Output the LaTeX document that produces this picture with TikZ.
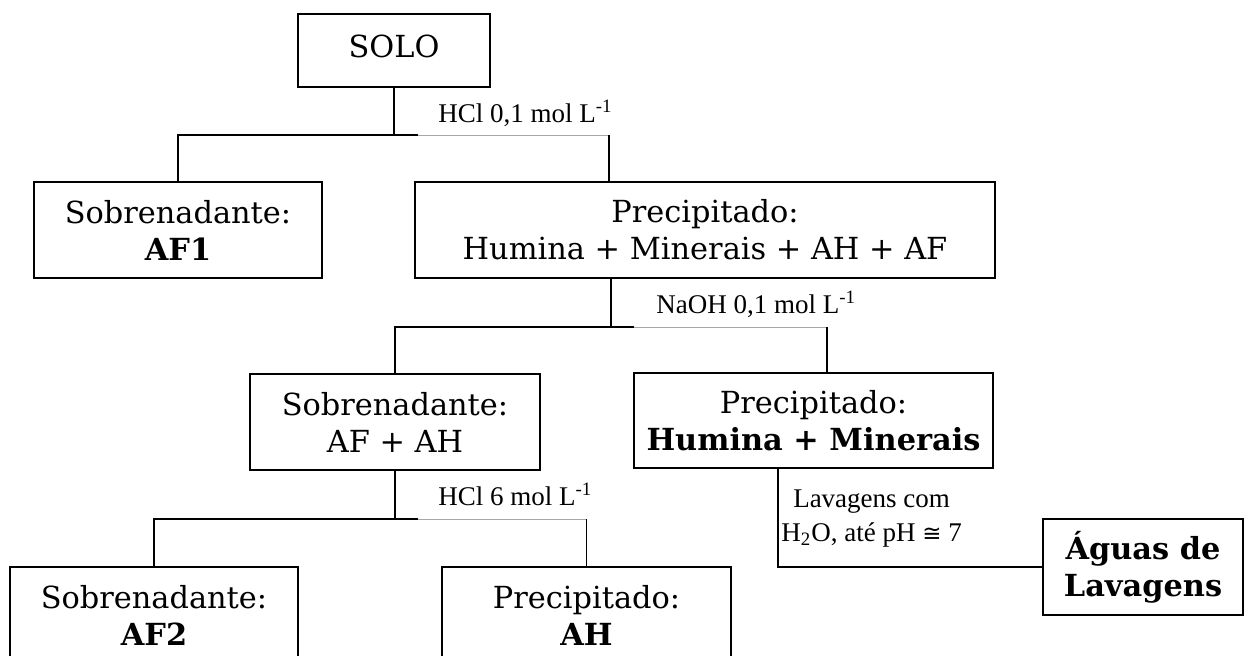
\documentclass[tikz,border=0pt]{standalone}
\usepackage{fontspec}
\newfontfamily\bkm{DejaVu Serif}
\newfontfamily\tms{Liberation Serif}
\newfontfamily\symf{DejaVu Sans}[Scale=0.85]
\begin{document}
\begin{tikzpicture}[x=0.5pt,y=-0.5pt,
  box/.style={draw, line width=1pt, inner sep=0pt, align=center, font=\bkm\fontsize{15.2}{18.5}\selectfont},
  conn/.style={line width=0.8pt},
  faint/.style={line width=0.4pt, draw=black!35},
  lab/.style={font=\tms\fontsize{13.5}{17}\selectfont, inner sep=0pt}]
\useasboundingbox (0,0) rectangle (1247,656);
\clip (0,0) rectangle (1247,656);
% boxes
\node[box, minimum width=96pt, minimum height=36.5pt, text depth=4.6pt] (solo) at (394,50.5) {SOLO};
\node[box, minimum width=144pt, minimum height=48pt] (af1) at (178,230) {Sobrenadante:\\\textbf{AF1}};
\node[box, minimum width=290pt, minimum height=48pt] (prec1) at (705,230) {Precipitado:\\Humina + Minerais + AH + AF};
\node[box, minimum width=145pt, minimum height=48pt] (sob2) at (395,422) {Sobrenadante:\\AF + AH};
\node[box, minimum width=179.5pt, minimum height=47.5pt] (hum) at (813.5,420.5) {Precipitado:\\\textbf{Humina + Minerais}};
\node[box, minimum width=144pt, minimum height=48pt] (af2) at (154,615) {Sobrenadante:\\\textbf{AF2}};
\node[box, minimum width=144.5pt, minimum height=48pt] (ah) at (586.5,615) {Precipitado:\\\textbf{AH}};
\node[box, minimum width=100pt, minimum height=48pt] (aguas) at (1143,567) {\textbf{Águas de}\\\textbf{Lavagens}};
% step 1
\coordinate (h1l) at (178,135);
\coordinate (h1g) at (418,135);
\coordinate (h1r) at (609,135);
\draw[conn] (solo.south) -- (solo.south |- h1l);
\draw[conn] (af1.north) -- (h1l) -- (h1g);
\draw[faint] (h1g) -- (h1r);
\draw[conn] (h1r) -- (h1r |- prec1.north);
% step 2
\coordinate (p2) at (611,327);
\coordinate (h2g) at (634,327);
\coordinate (h2r) at (827,327);
\draw[conn] (p2 |- prec1.south) -- (p2);
\draw[conn] (sob2.north) |- (h2g);
\draw[faint] (h2g) -- (h2r);
\draw[conn] (h2r) -- (h2r |- hum.north);
% step 3
\coordinate (h3) at (395,519);
\coordinate (h3g) at (418,519);
\coordinate (h3r) at (586.5,519);
\draw[conn] (sob2.south) -- (h3);
\draw[conn] (af2.north) |- (h3g);
\draw[faint] (h3g) -- (h3r);
\draw[conn] (h3r) -- (ah.north);
% step 4
\coordinate (w) at (778,567);
\draw[conn] (w |- hum.south) |- (aguas.west);
% labels
\node[lab, anchor=base west] (l1) at (438,123) {HCl 0,1 mol L\textsuperscript{-1}};
\node[lab, anchor=base west] (l2) at (656,314) {NaOH 0,1 mol L\textsuperscript{-1}};
\node[lab, anchor=base west] (l3) at (438,506) {HCl 6 mol L\textsuperscript{-1}};
\node[lab, align=center, anchor=north west] (l4) at (781,489) {Lavagens com\\H\textsubscript{2}O, até pH {\symf ≅} 7};
\end{tikzpicture}
\end{document}
